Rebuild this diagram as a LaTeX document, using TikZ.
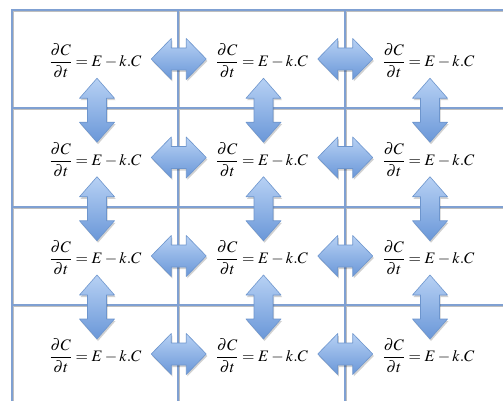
\documentclass[tikz,border=0pt]{standalone}
\usepackage{mathptmx}
\usetikzlibrary{calc}
\definecolor{gridblue}{HTML}{7FA0D2}
\definecolor{arrowtop}{HTML}{B7D1F4}
\definecolor{arrowbot}{HTML}{6A97D8}
\definecolor{arrowedge}{HTML}{6D95CD}
\begin{document}
\begin{tikzpicture}[x=1pt,y=-1pt,
  gridline/.style={draw=gridblue, line width=1.6pt},
  gridshadow/.style={draw=black!25, line width=1.2pt},
  eqn/.style={inner sep=0pt, font=\fontsize{16}{18}\selectfont},
  arrowbody/.style={top color=arrowtop, bottom color=arrowbot, draw=arrowedge, line width=0.6pt, line join=round},
  arrowshade/.style={fill=black, opacity=0.18},
  harrow/.pic={
    \fill[arrowshade, shift={(1,2)}] (-27.5,0) -- (-7.5,-20.5) -- (-7.5,-11) -- (7.5,-11) -- (7.5,-20.5) -- (27.5,0) -- (7.5,20.5) -- (7.5,11) -- (-7.5,11) -- (-7.5,20.5) -- cycle;
    \path[arrowbody] (-27.5,0) -- (-7.5,-20.5) -- (-7.5,-11) -- (7.5,-11) -- (7.5,-20.5) -- (27.5,0) -- (7.5,20.5) -- (7.5,11) -- (-7.5,11) -- (-7.5,20.5) -- cycle;
  },
  varrow/.pic={
    \fill[arrowshade, shift={(1,2)}] (0,-32) -- (17.5,-12) -- (9.5,-12) -- (9.5,12) -- (17.5,12) -- (0,32) -- (-17.5,12) -- (-9.5,12) -- (-9.5,-12) -- (-17.5,-12) -- cycle;
    \path[arrowbody] (0,-32) -- (17.5,-12) -- (9.5,-12) -- (9.5,12) -- (17.5,12) -- (0,32) -- (-17.5,12) -- (-9.5,12) -- (-9.5,-12) -- (-17.5,-12) -- cycle;
  }]
\useasboundingbox (0,0) rectangle (503,401);
\fill[white] (0,0) rectangle (503,401);
% grid
\foreach \y in {10,108,207,305} {
  \draw[gridshadow] (13,\y+1.6) -- (503,\y+1.6);
}
\foreach \x in {12,178,345} {
  \draw[gridshadow] (\x+1.6,11) -- (\x+1.6,401);
}
\foreach \y in {10,108,207,305} {
  \draw[gridline] (11.2,\y) -- (503,\y);
}
\foreach \x in {12,178,345} {
  \draw[gridline] (\x,9.2) -- (\x,401);
}
% equations
\foreach \r/\yy in {1/61,2/159.5,3/258,4/356} {
  \foreach \c/\xx in {1/95.5,2/262,3/428.5} {
    \node[eqn] (e\r\c) at (\xx,\yy) {$\displaystyle\frac{\partial C}{\partial t}=E-k.C$};
  }
}
% horizontal double arrows
\foreach \r in {1,2,3,4} {
  \path ($(e\r1)!0.5!(e\r2)+(0,-2)$) pic {harrow};
  \path ($(e\r2)!0.5!(e\r3)+(0,-2)$) pic {harrow};
}
% vertical double arrows
\foreach \c in {1,2,3} {
  \path ($(e1\c)!0.5!(e2\c)+(1.5,0)$) pic {varrow};
  \path ($(e2\c)!0.5!(e3\c)+(1.5,0)$) pic {varrow};
  \path ($(e3\c)!0.5!(e4\c)+(1.5,0)$) pic {varrow};
}
\end{tikzpicture}
\end{document}
